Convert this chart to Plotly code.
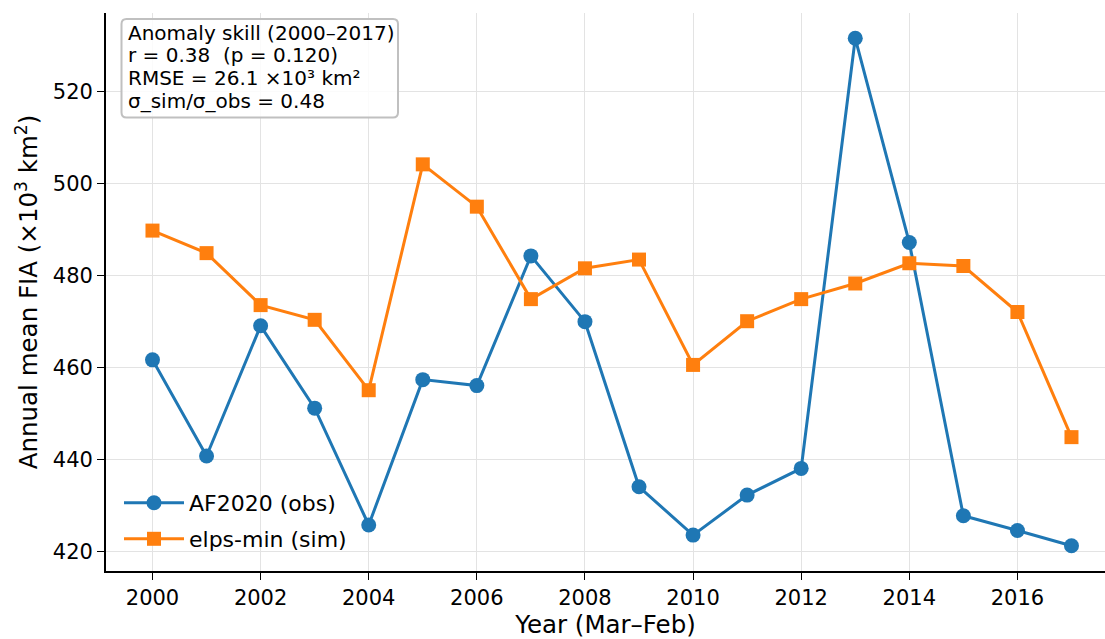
import plotly.graph_objects as go

years = list(range(2000, 2018))
obs = [461.7, 440.8, 469.1, 451.2, 425.8, 457.4, 456.1, 484.3, 470.0, 434.1,
       423.6, 432.3, 438.1, 531.6, 487.2, 427.8, 424.6, 421.3]
sim = [489.8, 484.9, 473.6, 470.4, 455.1, 504.2, 495.0, 474.9, 481.6, 483.5,
       460.6, 470.1, 474.9, 478.3, 482.7, 482.1, 472.1, 444.9]
x_ticks = list(range(2000, 2018, 2))
y_ticks = [420, 440, 460, 480, 500, 520]
skill_lines = [
    "Anomaly skill (2000–2017)",
    "r = 0.38\u00a0\u00a0(p = 0.120)",
    "RMSE = 26.1 ×10³ km²",
    "σ_sim/σ_obs = 0.48",
]

FONT = "DejaVu Sans"
W, H = 1105, 639
L, R, T, B = 106, 0, 13, 68
PW, PH = W - L - R, H - T - B


def px_x(x):
    return (x - L) / PW


def px_y(y):
    return (H - B - y) / PH


fig = go.Figure()
fig.add_trace(go.Scatter(
    x=years, y=obs, mode="lines+markers", name="AF2020 (obs)", legend="legend",
    line=dict(color="#1f77b4", width=3),
    marker=dict(symbol="circle", size=15, color="#1f77b4"),
))
fig.add_trace(go.Scatter(
    x=years, y=sim, mode="lines+markers", name="elps-min (sim)", legend="legend2",
    line=dict(color="#ff7f0e", width=3),
    marker=dict(symbol="square", size=14, color="#ff7f0e"),
))

leg_common = dict(xanchor="left", yanchor="middle", bgcolor="rgba(0,0,0,0)",
                  font=dict(size=22, family=FONT), itemwidth=60, borderwidth=0)
fig.update_layout(
    width=W, height=H,
    margin=dict(l=L, r=R, t=T, b=B, autoexpand=False),
    plot_bgcolor="white", paper_bgcolor="white",
    font=dict(family=FONT, size=21, color="black"),
    showlegend=True,
    legend=dict(x=px_x(119), y=px_y(503), **leg_common),
    legend2=dict(x=px_x(119), y=px_y(539), **leg_common),
    xaxis=dict(
        range=[1999.14, 2017.62], tickvals=x_ticks, automargin=False,
        showgrid=True, gridcolor="#e3e3e3", gridwidth=1,
        showline=True, linecolor="black", linewidth=1.8,
        ticks="outside", ticklen=7, tickwidth=1.3, tickcolor="black",
        tickfont=dict(size=21, family=FONT), zeroline=False,
        title=dict(text="Year (Mar–Feb)", font=dict(size=24.5, family=FONT), standoff=4),
    ),
    yaxis=dict(
        range=[415.8, 537.1], tickvals=y_ticks, automargin=False,
        showgrid=True, gridcolor="#e3e3e3", gridwidth=1,
        showline=True, linecolor="black", linewidth=1.8,
        ticks="outside", ticklen=7, tickwidth=1.3, tickcolor="black",
        tickfont=dict(size=21, family=FONT), zeroline=False,
        title=dict(text="Annual mean FIA (×10<sup>3</sup> km<sup>2</sup>)",
                   font=dict(size=24.5, family=FONT), standoff=8),
    ),
)

# rounded annotation box
x0, x1 = px_x(121.5), px_x(398)
y0, y1 = px_y(117.5), px_y(19)
rx, ry = 5 / PW, 5 / PH
path = (f"M {x0+rx},{y1} L {x1-rx},{y1} Q {x1},{y1} {x1},{y1-ry} "
        f"L {x1},{y0+ry} Q {x1},{y0} {x1-rx},{y0} L {x0+rx},{y0} "
        f"Q {x0},{y0} {x0},{y0+ry} L {x0},{y1-ry} Q {x0},{y1} {x0+rx},{y1} Z")
fig.add_shape(type="path", path=path, xref="paper", yref="paper",
              fillcolor="rgba(255,255,255,0.85)", line=dict(color="#c0c0c0", width=2),
              layer="above")

line_y = [33, 55, 78, 100.5]
for txt, yy in zip(skill_lines, line_y):
    fig.add_annotation(
        xref="paper", yref="paper", x=px_x(126), y=px_y(yy),
        xanchor="left", yanchor="middle", align="left", showarrow=False,
        text=txt, font=dict(size=20, family=FONT, color="black"),
    )

fig.write_html("out.html", config={"displayModeBar": False},
               post_script="document.body.style.margin='0';")
